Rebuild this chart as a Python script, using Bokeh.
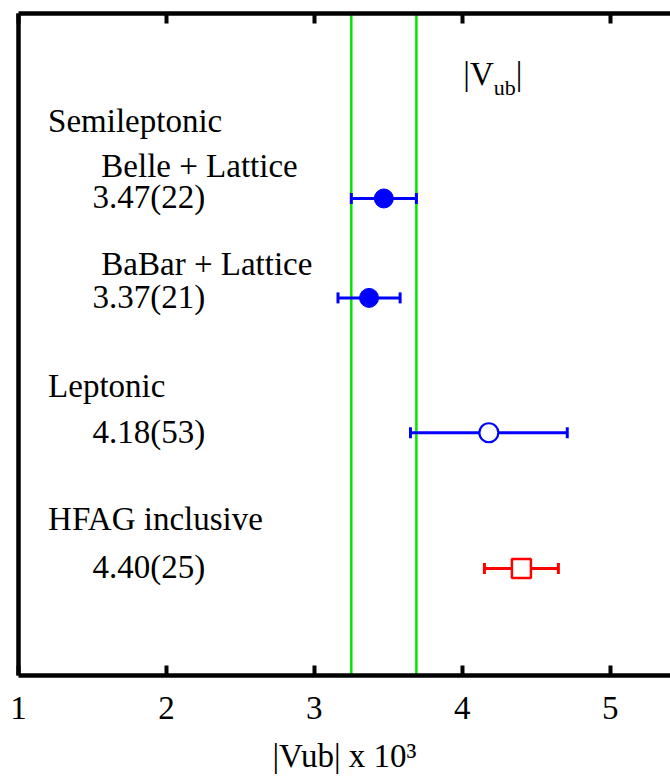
from bokeh.plotting import figure
from bokeh.models import (ColumnDataSource, Whisker, TeeHead, Span, LinearAxis,
                          FixedTicker, Label)
from bokeh.embed import file_html
from bokeh.resources import INLINE

# ---- data ----
row_names = ["Belle + Lattice", "BaBar + Lattice", "Leptonic", "HFAG inclusive"]
vub_values = [3.47, 3.37, 4.18, 4.40]
vub_errors = [0.22, 0.21, 0.53, 0.25]
value_labels = ["3.47(22)", "3.37(21)", "4.18(53)", "4.40(25)"]
band_edges = [3.25, 3.69]
tick_values = [1, 2, 3, 4, 5]

# ---- layout (row positions on a 0..10 vertical scale) ----
row_y = [7.206, 5.704, 3.667, 1.618]
marker_kind = ["circle", "circle", "circle", "square"]
fill_cols = ["#0000ff", "#0000ff", "#ffffff", "#ffffff"]
line_cols = ["#0000ff", "#0000ff", "#0000ff", "#ff0000"]
bar_cols = ["#0000ff", "#0000ff", "#0000ff", "#ff0000"]

FS = "33px"
FONT = "Liberation Serif"

p = figure(width=670, height=779, x_range=(1, 5.408), y_range=(0, 10),
           output_backend="svg", toolbar_location=None,
           min_border_left=18, min_border_right=0, min_border_top=13,
           min_border_bottom=104, background_fill_color="white",
           border_fill_color="white", outline_line_color=None)
p.grid.visible = False

# bottom axis (frame line, inward ticks)
xa = p.xaxis[0]
xa.ticker = FixedTicker(ticks=tick_values)
xa.axis_line_width = 4.5
xa.axis_line_color = "black"
xa.major_tick_in = 10
xa.major_tick_out = 0
xa.major_tick_line_width = 4
xa.minor_tick_line_color = None
xa.major_label_text_font = FONT
xa.major_label_text_font_size = FS
xa.major_label_text_color = "black"
xa.major_label_standoff = 21
xa.axis_label = "|Vub| x 10³"
xa.axis_label_text_font = FONT
xa.axis_label_text_font_size = FS
xa.axis_label_text_font_style = "normal"
xa.axis_label_text_color = "black"
xa.axis_label_standoff = 16

# left axis: frame line only
ya = p.yaxis[0]
ya.ticker = FixedTicker(ticks=[])
ya.axis_line_width = 4.5
ya.axis_line_color = "black"
ya.major_tick_out = 0
ya.major_tick_in = 0
ya.minor_tick_line_color = None
ya.major_label_text_font_size = "0px"
ya.major_label_standoff = 0

# top axis: frame line + inward ticks
top = LinearAxis(ticker=FixedTicker(ticks=tick_values), axis_line_width=4.5,
                 major_tick_in=10, major_tick_out=0, major_tick_line_width=4,
                 minor_tick_line_color=None, major_label_text_font_size="0px",
                 major_label_standoff=0)
p.add_layout(top, "above")

# green band edges
for e in band_edges:
    p.add_layout(Span(location=e, dimension="height", line_color="#00e600",
                      line_width=2.5, level="underlay"))

# error bars
lo = [v - e for v, e in zip(vub_values, vub_errors)]
hi = [v + e for v, e in zip(vub_values, vub_errors)]
for col in ["#0000ff", "#ff0000"]:
    idx = [i for i, c in enumerate(bar_cols) if c == col]
    src = ColumnDataSource(dict(y=[row_y[i] for i in idx],
                                lo=[lo[i] for i in idx],
                                hi=[hi[i] for i in idx]))
    p.add_layout(Whisker(source=src, base="y", lower="lo", upper="hi",
                         dimension="width", line_color=col, line_width=3,
                         level="underlay",
                         lower_head=TeeHead(size=11, line_color=col, line_width=3),
                         upper_head=TeeHead(size=11, line_color=col, line_width=3)))

# markers
msrc = ColumnDataSource(dict(x=vub_values, y=row_y, m=marker_kind,
                             f=fill_cols, l=line_cols,
                             s=[19, 19, 19, 19], w=[1, 1, 2.2, 2.5]))
p.scatter(x="x", y="y", marker="m", size="s", fill_color="f",
          line_color="l", line_width="w", source=msrc)

# text annotations (anchored at bottom of text box)
def txt(x, y, s, size=FS):
    p.add_layout(Label(x=x, y=y, text=s, x_units="data", y_units="data",
                       text_font=FONT, text_font_size=size,
                       text_font_style="normal", text_color="black",
                       text_baseline="bottom", text_align="left"))

txt(1.20, 8.103, "Semileptonic")
txt(1.56, 7.427, row_names[0])
txt(1.56, 5.941, row_names[1])
txt(1.20, 4.097, row_names[2])
txt(1.20, 2.086, row_names[3])
for yy, lab in zip(row_y, value_labels):
    txt(1.50, yy - 0.257, lab)

# |V_ub| title
txt(4.007, 8.813, "|V")
txt(4.007 + 0.206, 8.692, "ub", size="22px")
txt(4.007 + 0.354, 8.813, "|")

open("out.html", "w").write(file_html(p, INLINE))
